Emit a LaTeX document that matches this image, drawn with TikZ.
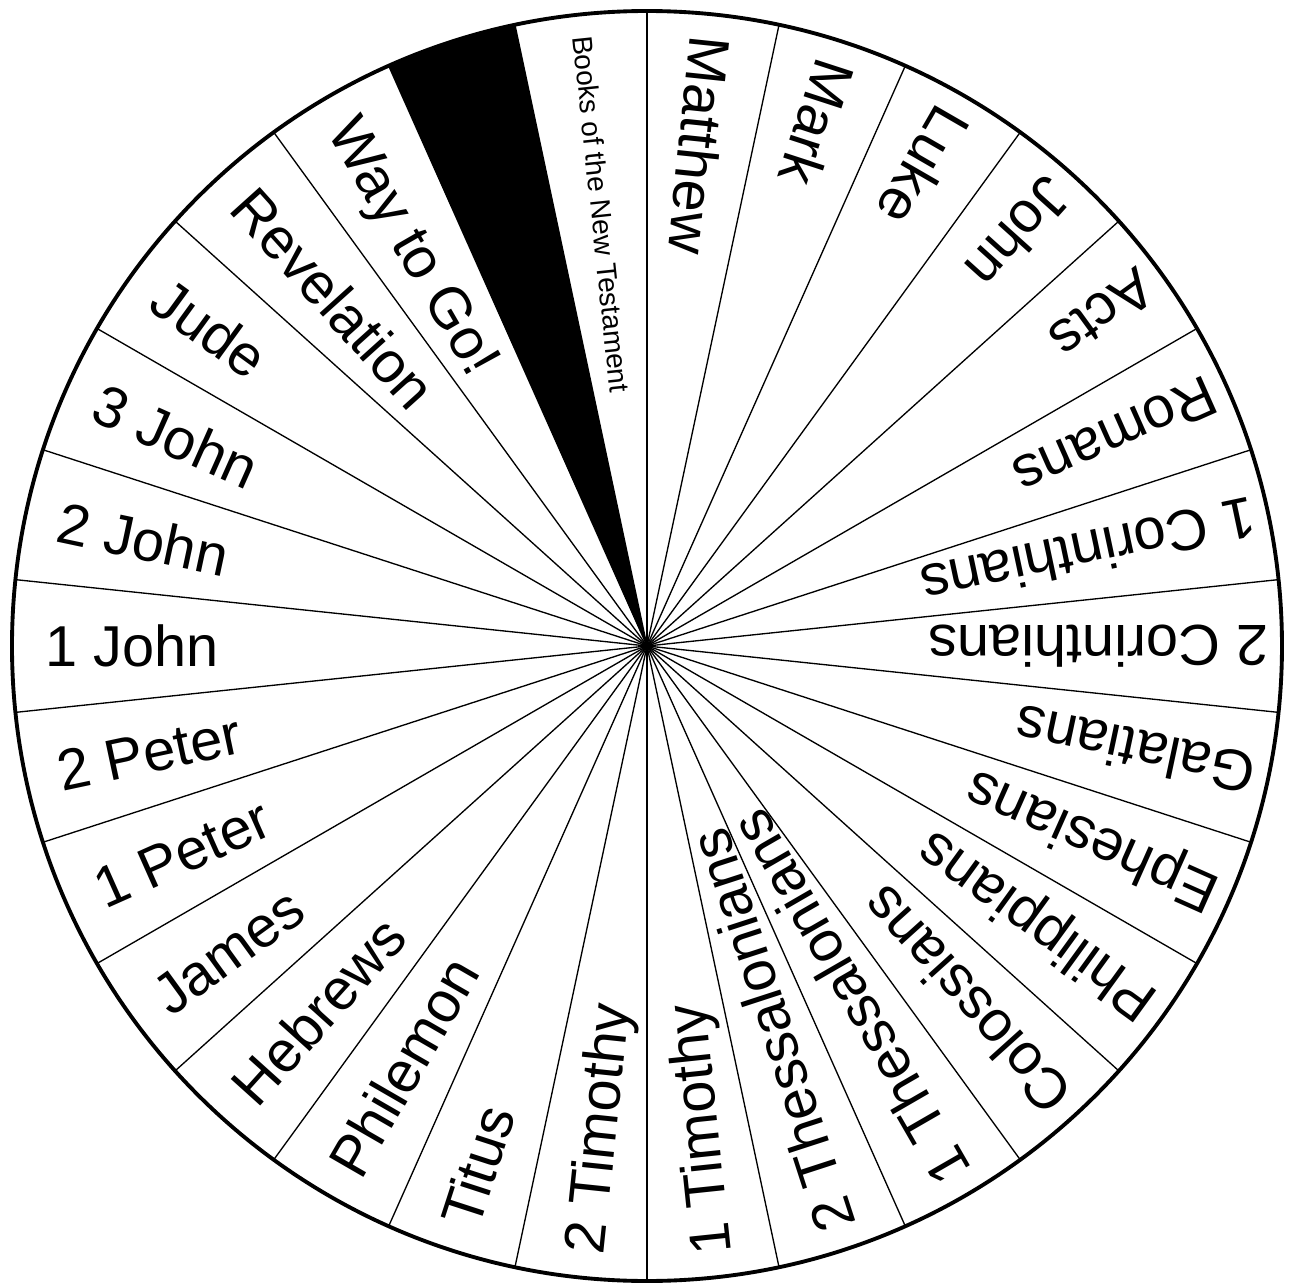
\documentclass[tikz,border=0pt]{standalone}
\usepackage{fontspec}
\setmainfont{Liberation Sans}

\begin{document}
\begin{tikzpicture}[x=0.01cm, y=0.01cm,
    spoke/.style={line width=0.38pt},
    rim/.style={line width=1.1pt},
    booklabel/.style={anchor=west, inner sep=0pt, font=\fontsize{16.4}{18}\selectfont,
        text height=11.7pt, text depth=0pt},
    titlelabel/.style={anchor=west, inner sep=0pt, font=\fontsize{8}{9}\selectfont,
        text height=5.7pt, text depth=0pt}]
    \useasboundingbox (-647,-641) rectangle (643,646);
    \coordinate (hub) at (0,0);

    % Black wedge
    \fill (hub) -- (102:635) arc[start angle=102, end angle=114, radius=635] -- cycle;

    % Spokes and rim
    \foreach \a in {6,18,...,354}
        \draw[spoke] (hub) -- (\a:635);
    \draw[rim] (hub) circle[radius=635];

    % Title
    \node[titlelabel, rotate=276] (title) at (96:614) {Books of the New Testament};

    % Book names
    \foreach \a/\t [count=\i] in {84/Matthew, 72/Mark, 60/Luke, 48/John, 36/Acts,
        24/Romans, 12/1 Corinthians, 0/2 Corinthians, -12/Galatians, -24/Ephesians,
        -36/Philippians, -48/Colossians, -60/1 Thessalonians, -72/2 Thessalonians,
        -84/1 Timothy, -96/2 Timothy, -108/Titus, -120/Philemon, -132/Hebrews,
        -144/James, -156/1 Peter, -168/2 Peter, -180/1 John, -192/2 John,
        -204/3 John, -216/Jude, -228/Revelation, -240/Way to Go!}
        \node[booklabel, rotate=\a+180] (b\i) at (\a:{612+10*cos(\a)}) {\t};
\end{tikzpicture}
\end{document}
